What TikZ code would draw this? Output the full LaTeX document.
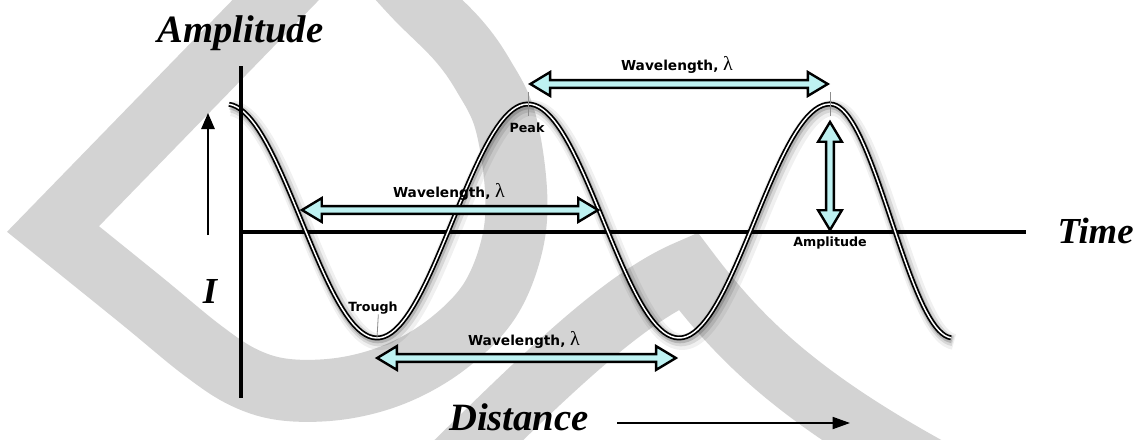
\documentclass[tikz,border=0pt]{standalone}
\usepackage{fontspec}
\setmainfont{Liberation Serif}
\newfontfamily\labelfont{DejaVu Sans}
\usetikzlibrary{shapes.arrows,arrows.meta}
\definecolor{wmgray}{RGB}{211,211,211}
\definecolor{arrowcyan}{RGB}{190,242,242}
\newcommand\wlam{{\normalfont\fontsize{15}{15}\selectfont λ}}
\begin{document}
\begin{tikzpicture}[x=0.75pt,y=-0.75pt,
  bigtext/.style={font=\bfseries\itshape\fontsize{29}{30}\selectfont, inner sep=0pt, anchor=base},
  midtext/.style={font=\bfseries\itshape\fontsize{27.5}{29}\selectfont, inner sep=0pt, anchor=base},
  smalllabel/.style={font=\labelfont\bfseries\fontsize{9.5}{10}\selectfont, inner sep=0pt},
  wltext/.style={font=\labelfont\bfseries\fontsize{10.3}{11}\selectfont, inner sep=0pt},
  dimarrow/.style={double arrow, draw=black, line width=1.8pt, fill=arrowcyan,
     inner xsep=0pt, inner ysep=2pt, double arrow head extend=6pt, double arrow tip angle=62},
  axisline/.style={line width=2.6pt},
  watermark/.style={draw=wmgray, line width=46.5pt, line join=miter},
  wave/.style={draw=black, line width=1.3pt, double=white, double distance=1.1pt},
  shadowA/.style={draw=black, opacity=0.06, line width=12pt, line join=round, shift={(3,4)}},
  shadowB/.style={draw=black, opacity=0.10, line width=8pt, line join=round, shift={(2,3)}},
  shadowC/.style={draw=black, opacity=0.16, line width=5pt, line join=round, shift={(1,2)}},
  tickline/.style={draw=black!45, line width=0.6pt},
  plainarrow/.style={line width=1.3pt, -{Triangle[length=12pt,width=10pt]}}
]
\fill[white] (0,0) rectangle (1141,439);
\useasboundingbox (0,0) rectangle (1141,439);
% watermark
\begin{scope}
\clip (0,0) rectangle (1141,439);
\draw[watermark] (300,-25) -- plot[smooth, tension=0.6] coordinates {(53,229) (141,300) (202,350) (245,378) (288,390) (345,388) (400,372) (450,342) (490,300) (512,245) (516,190) (505,120) (483,75) (458,40) (418,0) (395,-25)};
\draw[watermark] (440,478) .. controls (540,380) and (620,300) .. (688,271) .. controls (740,340) and (800,400) .. (950,480);
\end{scope}
% horizontal axis
\coordinate (hl) at (241,232);
\coordinate (hr) at (1026,232);
\draw[axisline, line width=2.9pt] (hl) -- (hr);
% wave
\foreach \st in {shadowA,shadowB,shadowC,wave}{
  \draw[\st] plot[domain=229:830, samples=160] (\x,{221-117*cos((\x-226)/302*360)})
    -- plot[domain=830:951, samples=40] (\x,{221-117*cos((\x-830)/123*180)});
}
% vertical axis
\coordinate (vtop) at (241,66);
\coordinate (vbot) at (241,398);
\draw[axisline] (vtop) -- (vbot);
% ticks
\coordinate (pk1) at (528,104);
\coordinate (pk2) at (830,104);
\coordinate (tr1) at (377,338);
\node[smalllabel] (peak) at (527,128) {Peak};
\node[smalllabel] (trough) at (373,308) {Trough};
\node[smalllabel] (amp) at (830,243) {Amplitude};
\draw[tickline] ([yshift=9]pk1) -- ([yshift=-9]pk1);
\draw[tickline] ([yshift=9]pk2) -- ([yshift=-9]pk2);
\draw[tickline] ([xshift=4pt]trough.south) -- (tr1);
% dimension arrows
\node[dimarrow, minimum height=223pt] (wlt) at (679,84) {};
\node[dimarrow, minimum height=222pt] (wlm) at (450,210) {};
\node[dimarrow, minimum height=224pt] (wlb) at (526.5,358) {};
\node[dimarrow, minimum height=81pt, rotate=90] (ampa) at (830,176) {};
\node[wltext] (wltt) at (677,65) {Wavelength, \wlam};
\node[wltext] (wlmt) at (449,192) {Wavelength, \wlam};
\node[wltext] (wlbt) at (524,340) {Wavelength, \wlam};
% big labels
\node[bigtext] (title) at (240.5,42) {Amplitude};
\node[midtext] (time) at (1095.5,243) {Time};
\node[midtext] (ilab) at (210,303) {I};
\node[bigtext] (dist) at (519,430) {Distance};
% plain arrows
\coordinate (ua) at (208,235);
\coordinate (ub) at (208,113);
\draw[plainarrow] (ua) -- (ub);
\coordinate (da) at (617,423);
\coordinate (db) at (850,423);
\draw[plainarrow, -{Triangle[length=13pt,width=9pt]}] (da) -- (db);
\end{tikzpicture}
\end{document}
